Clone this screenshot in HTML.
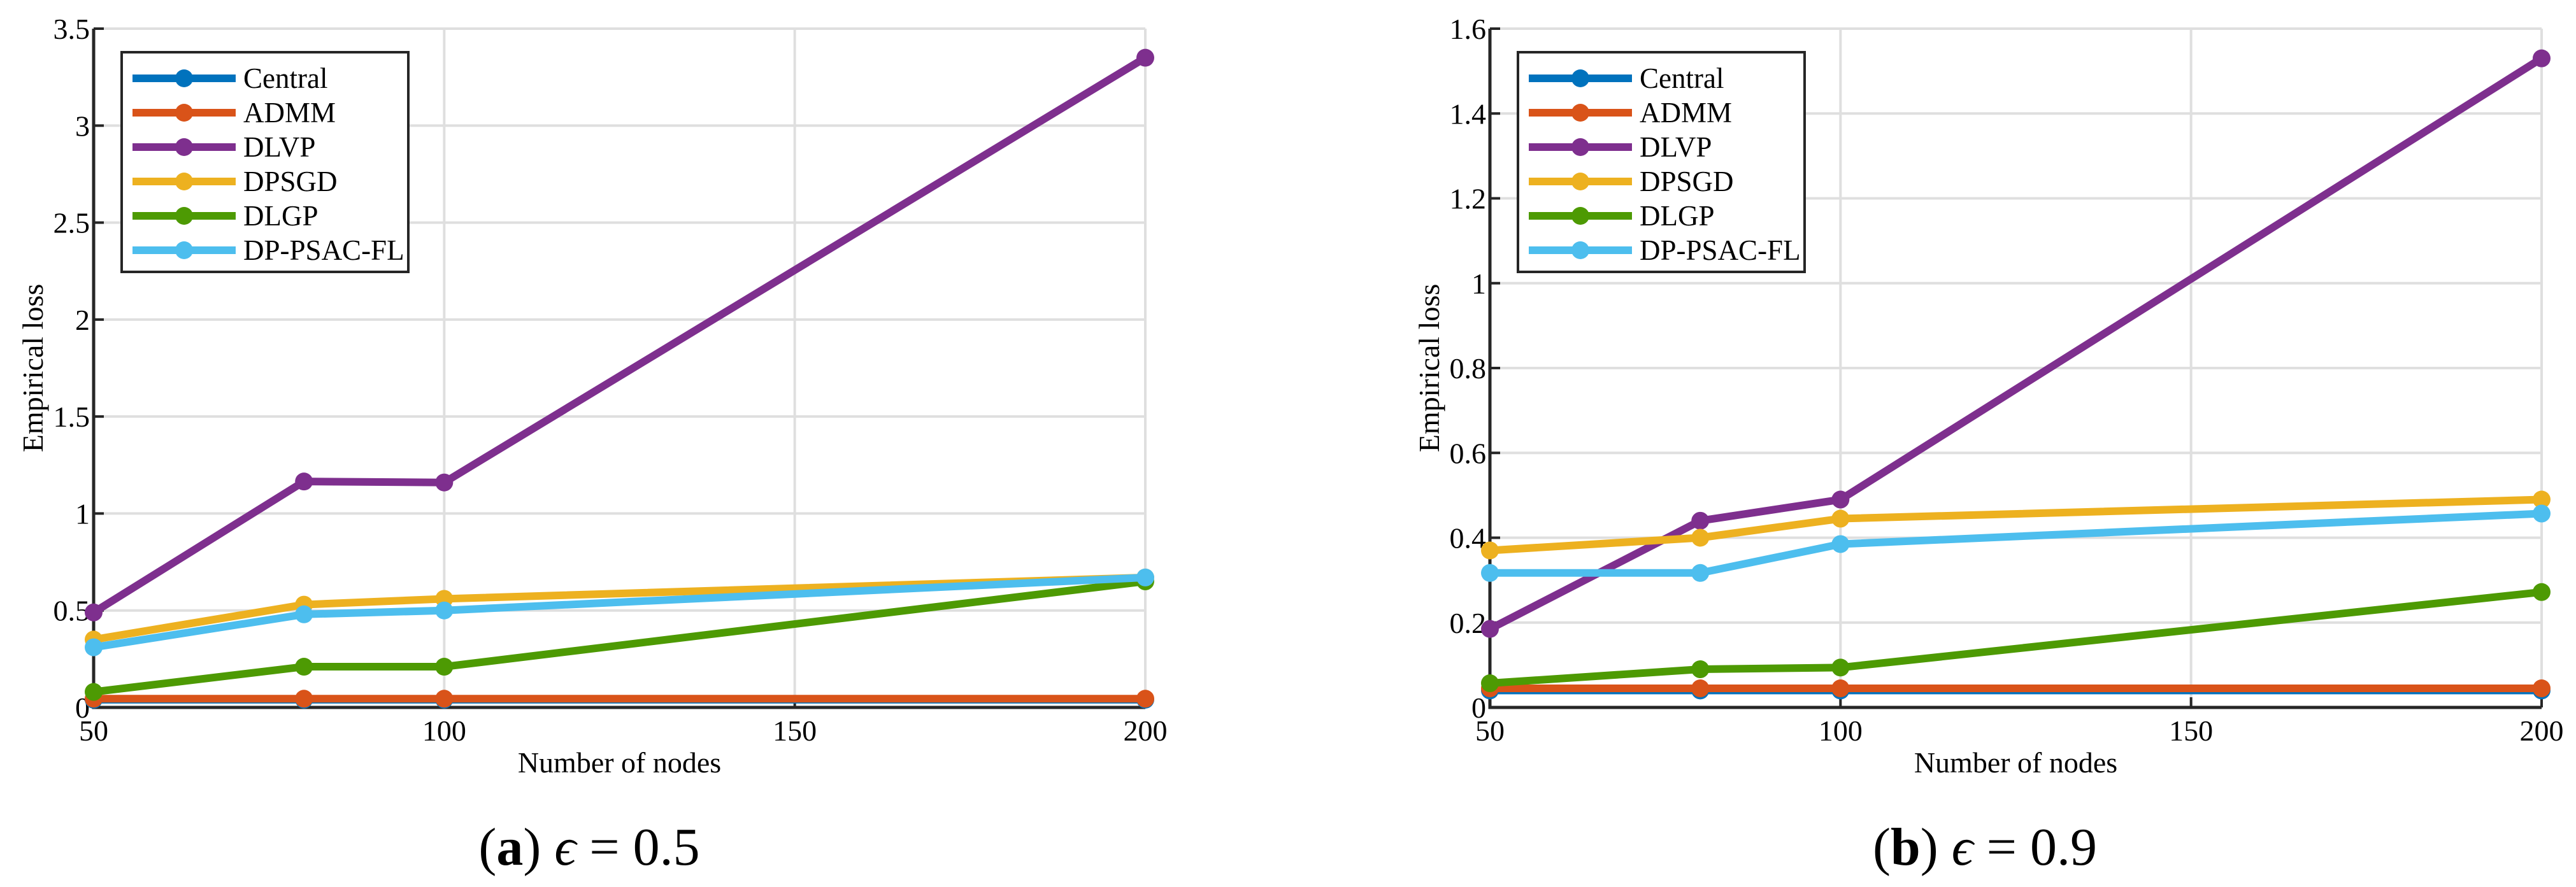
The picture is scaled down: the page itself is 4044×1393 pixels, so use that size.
<!DOCTYPE html>
<html><head><meta charset="utf-8"><style>
html,body{margin:0;padding:0;background:#fff;width:4044px;height:1393px;overflow:hidden}
svg{display:block}
text{font-family:"Liberation Serif",serif;fill:#000}
</style></head><body>
<svg id="fig" width="4044" height="1393" viewBox="0 0 4044 1393" xmlns="http://www.w3.org/2000/svg"></svg>
<script>
const xValues = [50, 80, 100, 200];
const seriesNames = ["Central","ADMM","DLVP","DPSGD","DLGP","DP-PSAC-FL"];
const seriesColors = ["#0072bd","#d95319","#7e2f8e","#edb120","#4d9a03","#4dbeee"];
const panelA_central = [0.04,0.04,0.04,0.04];
const panelA_admm = [0.045,0.045,0.045,0.045];
const panelA_dlvp = [0.49,1.165,1.16,3.35];
const panelA_dpsgd = [0.35,0.53,0.56,0.67];
const panelA_dlgp = [0.08,0.21,0.21,0.65];
const panelA_dppsac = [0.31,0.48,0.50,0.67];
const panelB_central = [0.04,0.04,0.04,0.04];
const panelB_admm = [0.045,0.045,0.045,0.045];
const panelB_dlvp = [0.185,0.44,0.49,1.53];
const panelB_dpsgd = [0.37,0.40,0.445,0.49];
const panelB_dlgp = [0.057,0.09,0.094,0.272];
const panelB_dppsac = [0.317,0.317,0.385,0.457];
const xTicks = [50,100,150,200];
const yTicksA = [0,0.5,1,1.5,2,2.5,3,3.5];
const yTickLabelsA = ["0","0.5","1","1.5","2","2.5","3","3.5"];
const yTicksB = [0,0.2,0.4,0.6,0.8,1,1.2,1.4,1.6];
const yTickLabelsB = ["0","0.2","0.4","0.6","0.8","1","1.2","1.4","1.6"];

const NS="http://www.w3.org/2000/svg";
const svg=document.getElementById('fig');
function mk(tag,attrs,parent){const e=document.createElementNS(NS,tag);for(const k in attrs)e.setAttribute(k,attrs[k]);(parent||svg).appendChild(e);return e;}

function panel(opt){
  const g=mk('g',{});
  
  
  const L=opt.left,R=opt.left+1651,T=45,B=1111;
  const xs=v=>L+(v-50)/150*(R-L);
  const ys=v=>B-(v-opt.ymin)/(opt.ymax-opt.ymin)*(B-T);
  opt.yTicks.forEach((t,i)=>{
    const y=ys(t);
    if(i>0){const gl=mk('line',{x1:L,x2:R,y1:y,y2:y,stroke:'#dfdfdf','stroke-width':4},g);
    
    }
    const tk=mk('line',{x1:L,x2:L+16,y1:y,y2:y,stroke:'#262626','stroke-width':4},g);
    
    
    const tx=mk('text',{x:L-6,y:y+16,'text-anchor':'end','font-size':46},g);
    tx.textContent=opt.yLabels[i];
    
    
  });
  xTicks.forEach(t=>{
    const x=xs(t);
    if(t>50){const gl=mk('line',{x1:x,x2:x,y1:T,y2:B,stroke:'#dfdfdf','stroke-width':4},g);
    
    }
    const tk=mk('line',{x1:x,x2:x,y1:B,y2:B-16,stroke:'#262626','stroke-width':4},g);
    
    
    const tx=mk('text',{x:x,y:B+52,'text-anchor':'middle','font-size':46},g);
    tx.textContent=String(t);
    
    
  });
  const ax=mk('path',{d:`M${L} ${T} L${L} ${B} L${R} ${B}`,fill:'none',stroke:'#262626','stroke-width':5},g);
  
  
  opt.series.forEach((vals,si)=>{
    const sg=mk('g',{},g);
    
    
    const pts=vals.map((v,i)=>xs(xValues[i])+','+ys(v)).join(' ');
    mk('polyline',{points:pts,fill:'none',stroke:seriesColors[si],'stroke-width':12,'stroke-linejoin':'round'},sg);
    vals.forEach((v,i)=>{
      const c=mk('circle',{cx:xs(xValues[i]),cy:ys(v),r:14,fill:seriesColors[si]},sg);
      
      
    });
  });
  const lg=mk('g',{},g);
  
  
  const lx=L+44;
  mk('rect',{x:lx,y:82,width:450,height:345,fill:'#fff',stroke:'#262626','stroke-width':4},lg);
  seriesNames.forEach((n,i)=>{
    const y=123+i*54;
    const eg=mk('g',{},lg);
    
    
    mk('line',{x1:lx+17,x2:lx+179,y1:y,y2:y,stroke:seriesColors[i],'stroke-width':12},eg);
    mk('circle',{cx:lx+98,cy:y,r:14,fill:seriesColors[i]},eg);
    const t=mk('text',{x:lx+191,y:y+15,'font-size':45},eg);
    t.textContent=n;
  });
  const xl=mk('text',{x:(L+R)/2,y:1213,'text-anchor':'middle','font-size':46},g);
  xl.textContent='Number of nodes';
  
  
  const yl=mk('text',{x:0,y:0,'text-anchor':'middle','font-size':46,transform:`translate(${L-80},${(T+B)/2}) rotate(-90)`},g);
  yl.textContent='Empirical loss';
  
  
  const cap=mk('text',{x:opt.capX,y:1358,'text-anchor':'middle','font-size':84},g);
  cap.innerHTML=`(<tspan font-weight="bold">${opt.letter}</tspan>)  <tspan font-style="italic">ϵ</tspan> = ${opt.eps}`;
  
  
}
panel({name:'chart-a',left:147,ymin:0,ymax:3.5,yTicks:yTicksA,yLabels:yTickLabelsA,
  series:[panelA_central,panelA_admm,panelA_dlvp,panelA_dpsgd,panelA_dlgp,panelA_dppsac],capX:925,letter:'a',eps:'0.5'});
panel({name:'chart-b',left:2339,ymin:0,ymax:1.6,yTicks:yTicksB,yLabels:yTickLabelsB,
  series:[panelB_central,panelB_admm,panelB_dlvp,panelB_dpsgd,panelB_dlgp,panelB_dppsac],capX:3116,letter:'b',eps:'0.9'});
</script>
</body></html>
